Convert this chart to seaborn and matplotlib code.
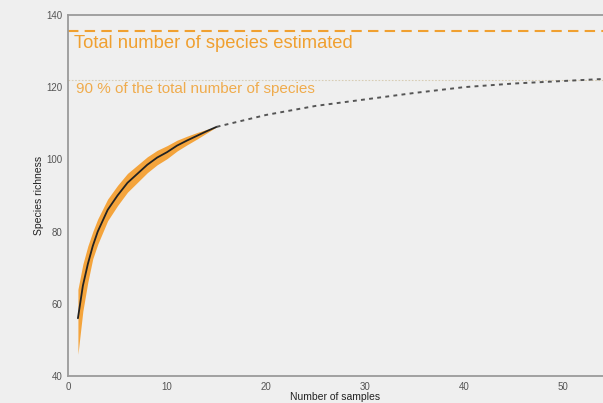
import matplotlib
matplotlib.use("Agg")
import matplotlib.pyplot as plt
import numpy as np
import pandas as pd
import seaborn as sns

samples_obs = [1, 1.5, 2, 2.5, 3, 4, 5, 6, 7, 8, 9, 10, 11, 12, 13, 14, 15]
richness_obs = [56, 65, 71, 76, 80, 86, 90, 93.5, 96, 98.5, 100.5, 102, 103.8, 105.2, 106.5, 107.8, 109]
richness_lo = [46, 58, 66, 72.5, 76.5, 83, 87.2, 90.9, 93.6, 96.3, 98.5, 100.2, 102.3, 104, 105.6, 107.3, 109]
richness_hi = [64, 71, 76, 80, 83.5, 89, 92.8, 96.1, 98.4, 100.7, 102.5, 103.8, 105.3, 106.4, 107.4, 108.3, 109]

# extrapolated curve
samples_ext = [15, 20, 25, 30, 35, 40, 45, 50, 55]
richness_ext = [109, 112.3, 114.8, 116.6, 118.4, 120, 121, 121.7, 122.4]

total_estimated = 135.5
pct90 = 122

BG = "#efefef"
ORANGE = "#f0a030"

sns.set_style("white")
plt.rcParams["font.family"] = ["Liberation Sans", "DejaVu Sans"]

fig = plt.figure(figsize=(6.03, 4.03), dpi=100)
fig.patch.set_facecolor(BG)
ax = fig.add_axes([0.1128, 0.067, 0.8872, 0.896])
ax.set_facecolor(BG)

obs = pd.DataFrame({"n": samples_obs, "s": richness_obs})
ext = pd.DataFrame({"n": samples_ext, "s": richness_ext})

ax.fill_between(samples_obs, richness_lo, richness_hi, color="#f4a43c", linewidth=0, zorder=2)
sns.lineplot(data=obs, x="n", y="s", ax=ax, color="#222222", linewidth=1.3, zorder=3)
sns.lineplot(data=ext, x="n", y="s", ax=ax, color="#555555", linewidth=1.4,
             linestyle=(0, (2, 2.2)), zorder=3)

ax.axhline(total_estimated, color=ORANGE, linestyle=(0, (5, 3)), linewidth=1.5, zorder=1)
ax.axhline(pct90, color="#d8cdb4", linestyle=(0, (1.5, 1.5)), linewidth=0.8, zorder=1)

ax.text(0.6, total_estimated - 1.0, "Total number of species estimated", color=ORANGE,
        fontsize=13.2, va="top", ha="left")
ax.text(0.8, pct90 - 2.4, "90 % of the total number of species", color=ORANGE,
        fontsize=11, va="center", ha="left", alpha=0.85)

ax.set_xlim(0, 54)
ax.set_ylim(40, 140)
ax.set_xticks([0, 10, 20, 30, 40, 50])
ax.set_yticks([40, 60, 80, 100, 120, 140])
ax.tick_params(axis="both", labelsize=7, colors="#555555", length=2, width=0.6, pad=2)
ax.set_xlabel("Number of samples", fontsize=7.5, color="#222222", labelpad=0)
ax.set_ylabel("Species richness", fontsize=7.5, color="#222222", labelpad=2)

for side in ["left", "bottom", "top"]:
    ax.spines[side].set_color("#9a9a9a")
    ax.spines[side].set_linewidth(1.3)
ax.spines["right"].set_visible(False)

fig.savefig("out.png", dpi=100, facecolor=BG)
